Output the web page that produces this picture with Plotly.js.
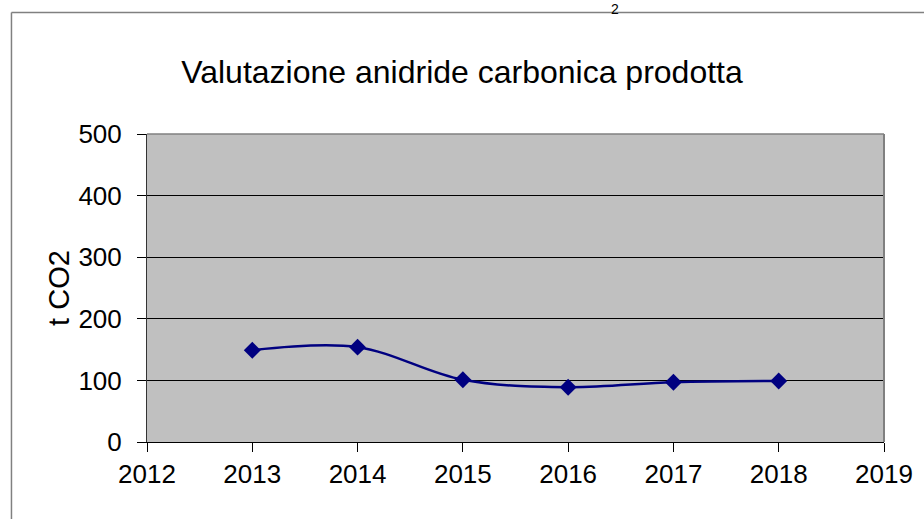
<!DOCTYPE html>
<html>
<head>
<meta charset="utf-8">
<script src="https://cdn.plot.ly/plotly-3.0.1.min.js"></script>
<style>
  body { margin: 0; background: #fff; }
  #plot { width: 924px; height: 519px; }
</style>
</head>
<body>
<div id="plot"></div>
<script>
// Years and tonnes of CO2
let years = [2013, 2014, 2015, 2016, 2017, 2018];
let co2 = [149, 154, 101, 89, 97, 99];
let xTicks = [2012, 2013, 2014, 2015, 2016, 2017, 2018, 2019];
let yTicks = [0, 100, 200, 300, 400, 500];

let font = "Liberation Sans, Arial, Helvetica, sans-serif";

let trace1 = {
  x: years,
  y: co2,
  type: "scatter",
  mode: "lines+markers",
  line: { color: "#000080", width: 2.5, shape: "spline", smoothing: 1 },
  marker: { symbol: "diamond", size: 13, color: "#000080" },
  cliponaxis: false,
  hoverinfo: "x+y"
};

let data = [trace1];

let layout = {
  width: 924,
  height: 519,
  margin: { l: 147, r: 40, t: 134, b: 77 },
  paper_bgcolor: "#ffffff",
  plot_bgcolor: "#c0c0c0",
  showlegend: false,
  font: { family: font, size: 26, color: "#000" },
  title: {
    text: "Valutazione anidride carbonica prodotta",
    font: { family: font, size: 32, color: "#000" },
    x: 0.5, xref: "container", xanchor: "center",
    y: 1 - 72 / 519, yref: "container", yanchor: "middle"
  },
  xaxis: {
    range: [2012, 2019],
    tickvals: xTicks,
    ticks: "outside",
    ticklen: 9,
    tickcolor: "#000",
    showgrid: false,
    zeroline: false,
    showline: true,
    linecolor: "#000",
    linewidth: 1,
    tickfont: { family: font, size: 26 },
    fixedrange: true
  },
  yaxis: {
    range: [0, 500],
    tickvals: yTicks,
    ticks: "outside",
    ticklen: 9,
    tickcolor: "#000",
    ticklabelstandoff: 10,
    showgrid: true,
    gridcolor: "#000",
    gridwidth: 1,
    zeroline: false,
    showline: true,
    linecolor: "#333",
    linewidth: 1,
    tickfont: { family: font, size: 26 },
    title: { text: "t CO2", font: { family: font, size: 29 }, standoff: 0 },
    fixedrange: true
  },
  shapes: [
    // gray top and right edges of the plot area
    { type: "line", xref: "paper", yref: "paper", x0: 0, x1: 1, y0: 1, y1: 1,
      line: { color: "#808080", width: 1.5 } },
    { type: "line", xref: "paper", yref: "paper", x0: 1, x1: 1, y0: 0, y1: 1,
      line: { color: "#808080", width: 2 } },
    // outer chart frame (left and top edges)
    { type: "line", xref: "paper", yref: "paper", x0: -0.1839, x1: 1.1, y0: 1.3945, y1: 1.3945,
      line: { color: "#808080", width: 1.5 } },
    { type: "line", xref: "paper", yref: "paper", x0: -0.1839, x1: -0.1839, y0: -0.3, y1: 1.3945,
      line: { color: "#808080", width: 1.5 } }
  ],
  annotations: [
    // subscript left over from text above the frame
    { text: "2", xref: "paper", yref: "paper", x: (615 - 147) / 737, y: (442 + 1) / 308,
      xanchor: "center", yanchor: "top", showarrow: false,
      font: { family: font, size: 14, color: "#000" } }
  ]
};

Plotly.newPlot("plot", data, layout, { displayModeBar: false, staticPlot: true });
</script>
</body>
</html>
